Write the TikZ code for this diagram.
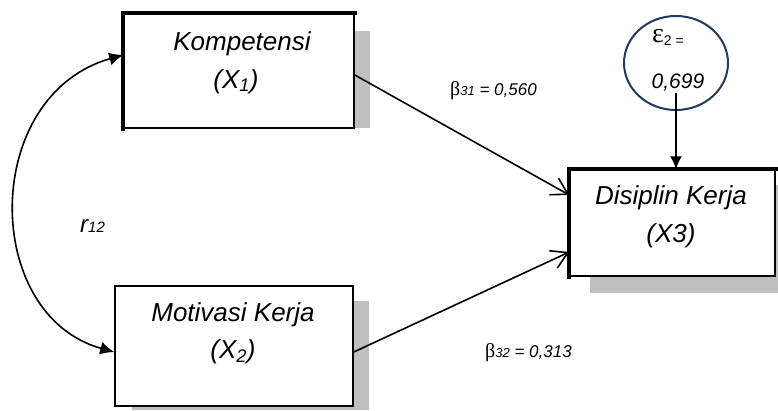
\documentclass[tikz,border=0pt]{standalone}
\usepackage{fontspec}
\setmainfont{Liberation Sans}
\newfontfamily\serifgr{Liberation Serif}
\usetikzlibrary{arrows.meta,shapes.geometric}
\definecolor{shadowgray}{HTML}{BFBFBF}
\definecolor{navy}{HTML}{1F3A5A}
\tikzset{
  box/.style={draw=black, fill=white, line width=1.5pt, rectangle, inner sep=0pt},
  heavyedge/.style={line width=3.6pt, line cap=rect},
  lbl/.style={inner sep=0pt, anchor=base, font=\fontsize{26}{29}\selectfont\itshape},
  coef/.style={inner sep=0pt, anchor=base west},
  path/.style={line width=1.6pt, -{Straight Barb[length=16pt,width=19pt,line width=1.6pt]}},
  corr/.style={line width=1.6pt, {Latex[length=14pt,width=13pt]}-{Latex[length=14pt,width=13pt]}},
  errarrow/.style={line width=1.6pt, -{Latex[length=13pt,width=12pt]}}
}
\begin{document}
\begin{tikzpicture}[x=1pt,y=-1pt]
\useasboundingbox (0,0) rectangle (778,410);
% shadows
\fill[shadowgray] (353,31) rectangle (370,128);
\fill[shadowgray] (132,301) rectangle (369,410);
\fill[shadowgray] (590,185) rectangle (778,293);
% boxes
\node[box, minimum width=230pt, minimum height=114pt] (x1) at (239,71) {};
\draw[heavyedge] (x1.south west) -- (x1.north west) -- (x1.north east);
\node[box, minimum width=238pt, minimum height=120pt] (x2) at (234,346) {};
\node[box, minimum width=205pt, minimum height=106pt] (x3) at (672.5,223) {};
\draw[heavyedge] (x3.south west) -- (x3.north west) -- (x3.north east);
% box texts
\node[lbl] (t1a) at (242,50) {Kompetensi};
\node[lbl] (t1b) at (236,88) {(X\textsubscript{1})};
\node[lbl] (t2a) at (233,321) {Motivasi Kerja};
\node[lbl] (t2b) at (233,358) {(X\textsubscript{2})};
\node[lbl] (t3a) at (671,204) {Disiplin Kerja};
\node[lbl] (t3b) at (671,242) {(X3)};
% error term
\node[draw=navy, line width=2pt, ellipse, minimum width=104pt, minimum height=94pt, inner sep=0pt] (e2) at (676,63) {};
\node[inner sep=0pt, anchor=base west] (e2a) at (652,42) {{\serifgr\fontsize{28}{30}\selectfont ε}{\fontsize{14}{16}\selectfont\raisebox{-3pt}{2 =}}};
\node[inner sep=0pt, anchor=base, font=\fontsize{21}{24}\selectfont\itshape] (e2b) at (678,88) {0,699};
\coordinate (e2src) at (676,93);
\draw[errarrow] (e2src) -- (e2src |- x3.north);
% paths
\draw[path] ([yshift=-4pt]x1.east) -- ([yshift=28pt]x3.west);
\draw[path] ([yshift=-6pt]x2.east) -- ([yshift=-29pt]x3.west);
\draw[corr] ([yshift=16pt]x1.west) .. controls (-19,95) and (-19,315) .. ([yshift=-6pt]x2.west);
% coefficients
\node[coef] (b31) at (450,95) {{\serifgr\fontsize{20}{22}\selectfont β}{\fontsize{13}{15}\selectfont\itshape 31}{\fontsize{17}{19}\selectfont\itshape{} = 0,560}};
\node[coef] (b32) at (485,357) {{\serifgr\fontsize{20}{22}\selectfont β}{\fontsize{13}{15}\selectfont\itshape 32}{\fontsize{17}{19}\selectfont\itshape{} = 0,313}};
\node[coef] (r12) at (80,232) {{\fontsize{24}{26}\selectfont\itshape r}{\fontsize{15}{17}\selectfont\itshape 12}};
\end{tikzpicture}
\end{document}
